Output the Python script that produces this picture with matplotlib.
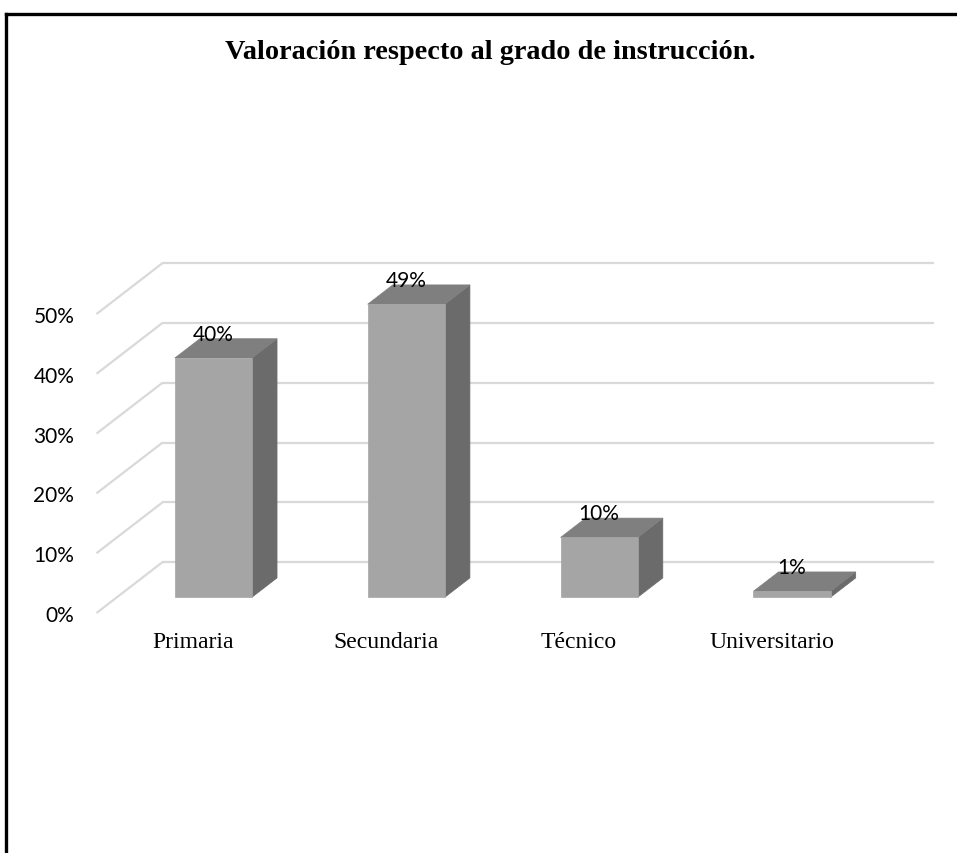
import matplotlib
matplotlib.use("Agg")
from matplotlib import pyplot as plt
from matplotlib.lines import Line2D
from matplotlib.patches import Polygon

# datos del gráfico
categorias = ["Primaria", "Secundaria", "Técnico", "Universitario"]
porcentajes = [40, 49, 10, 1]
ticks_y = [0, 10, 20, 30, 40, 50]
etiquetas_y = ["0%", "10%", "20%", "30%", "40%", "50%"]

TITULO = "Valoración respecto al grado de instrucción."

# estilo (efecto 3D tipo Excel)
COLOR_FRENTE = "#A5A5A5"
COLOR_TAPA = "#7F7F7F"
COLOR_LADO = "#6B6B6B"
COLOR_GRILLA = "#D9D9D9"
PROF_X = 0.342  # desplazamiento de profundidad en unidades de categoría
PROF_Y = 8.5  # desplazamiento de profundidad en unidades de %
BARRA_D0, BARRA_D1 = 0.31, 0.69
ANCHO = 0.4

W, H = 957, 854


def desplazar(x, y, d):
    """Proyecta un punto (x, y) a la profundidad d (0 frente, 1 fondo)."""
    return x + d * PROF_X, y + d * PROF_Y


def dibujar_barra(ax, i, valor):
    x0, x1 = i - ANCHO / 2, i + ANCHO / 2
    a = [desplazar(x, y, BARRA_D0) for x, y in [(x0, 0), (x1, 0), (x1, valor), (x0, valor)]]
    b = [desplazar(x, y, BARRA_D1) for x, y in [(x0, 0), (x1, 0), (x1, valor), (x0, valor)]]
    lado = [a[1], b[1], b[2], a[2]]
    tapa = [a[3], a[2], b[2], b[3]]
    for pts, color in [(lado, COLOR_LADO), (tapa, COLOR_TAPA), (a, COLOR_FRENTE)]:
        ax.add_patch(Polygon(pts, closed=True, facecolor=color, edgecolor=color,
                             linewidth=0.5, zorder=3, clip_on=False))
    cx, _ = desplazar(i, 0, BARRA_D0)
    ax.text(cx, valor + 6.7, f"{valor}%", ha="center", va="center",
            fontsize=15, family="Lato", color="black", zorder=4)


def main():
    fig = plt.figure(figsize=(W / 100, H / 100), dpi=100)

    # ejes: plano frontal, 0% en y=614 px, 5.98 px por %
    px_izq, px_der = 96.5, 940
    px_base, px_top = 614, 614 - 61 * 5.98
    ax = fig.add_axes([px_izq / W, 1 - px_base / H, (px_der - px_izq) / W, (px_base - px_top) / H])
    ax.set_xlim(-0.5, (px_der - 192.5) / 193)
    ax.set_ylim(0, 61)
    for s in ax.spines.values():
        s.set_visible(False)

    # pared del fondo y pared lateral
    for v in ticks_y:
        xa, ya = desplazar(-0.5, v, 1)
        xb, yb = desplazar(len(categorias) - 0.5, v, 1)
        ax.plot([xa, xb], [ya, yb], color=COLOR_GRILLA, linewidth=1.6, zorder=1,
                solid_capstyle="butt", clip_on=False)
        ax.plot([-0.5, xa], [v, ya], color=COLOR_GRILLA, linewidth=1.6, zorder=1,
                solid_capstyle="butt", clip_on=False)

    for i, valor in enumerate(porcentajes):
        dibujar_barra(ax, i, valor)

    ax.set_yticks(ticks_y)
    ax.set_yticklabels(etiquetas_y, family="Lato", fontsize=15, color="black")
    ax.set_xticks(range(len(categorias)))
    ax.set_xticklabels(categorias, family="Liberation Serif", fontsize=17, color="black")
    ax.tick_params(axis="y", length=0, pad=16)
    ax.tick_params(axis="x", length=0, pad=13)

    fig.text(490 / W, 1 - 59 / H, TITULO, ha="center", va="baseline",
             family="Liberation Serif", fontweight="bold", fontsize=20.3)

    # marco (borde superior e izquierdo)
    y_marco = 1 - 15 / H
    x_marco = 6 / W
    fig.add_artist(Line2D([x_marco, 1], [y_marco, y_marco], color="black", linewidth=2.4,
                          transform=fig.transFigure))
    fig.add_artist(Line2D([x_marco, x_marco], [0, y_marco], color="black", linewidth=2.4,
                          transform=fig.transFigure))

    fig.savefig("out.png", dpi=100)
    plt.close(fig)


if __name__ == "__main__":
    main()
